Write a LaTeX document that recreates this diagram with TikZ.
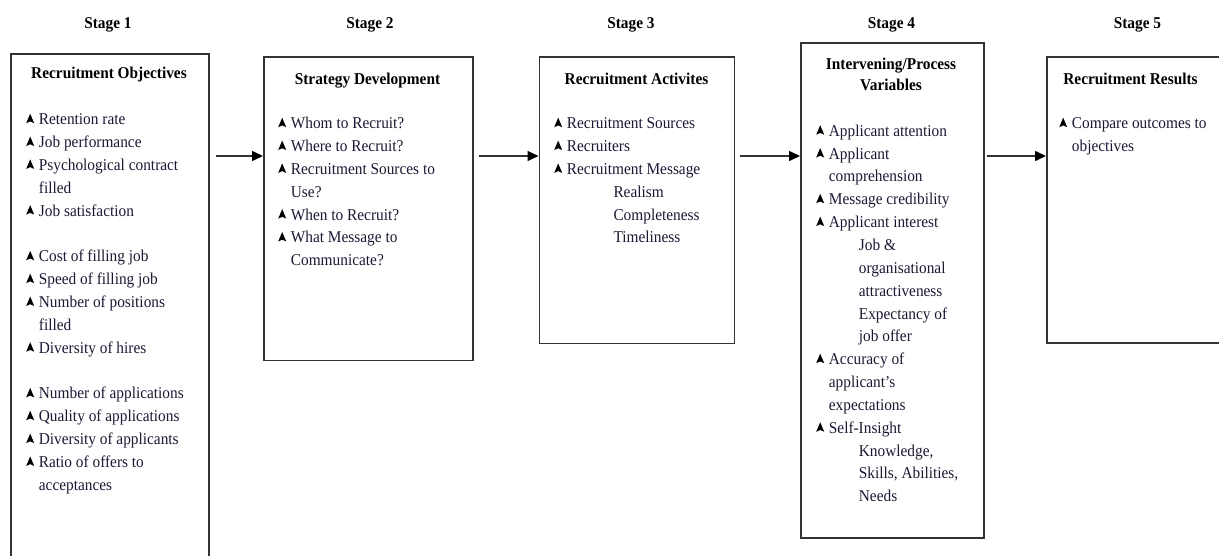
\documentclass[tikz,border=0pt]{standalone}
\usepackage{fontspec}
\setmainfont{Liberation Serif}[FakeStretch=0.93]
\usetikzlibrary{arrows.meta}
\definecolor{txt}{rgb}{0.1,0.1,0.2}
\definecolor{edge}{rgb}{0.2,0.2,0.2}
\newcommand\bl{\makebox[12.7pt][l]{\tikz[baseline=-1.5pt]\fill[black] (0pt,0pt)--(4pt,9.5pt)--(8pt,0pt)--(4pt,1.8pt)--cycle;}}
\newcommand\ind{\hspace*{12.7pt}}
\newcommand\fst{\rule{0pt}{16pt}}
\begin{document}
\begin{tikzpicture}[x=1pt,y=-1pt,
  box/.style={draw=edge,line width=1.5pt,inner sep=0pt,anchor=north west},
  body/.style={anchor=north west,align=left,inner sep=0pt,text=txt,font=\fontsize{16.5}{22.85}\selectfont},
  ttl/.style={anchor=base,inner sep=0pt,text=black,font=\bfseries\fontsize{16.5}{21.6}\selectfont},
  arr/.style={draw=edge,line width=1.5pt,-{Triangle[length=11pt,width=10pt,color=black]}}]
\useasboundingbox (0,0) rectangle (1219,555);
\clip (0,0) rectangle (1219,555);

% stage labels
\node[ttl] (s1) at (108,28) {Stage 1};
\node[ttl] (s2) at (370,28) {Stage 2};
\node[ttl] (s3) at (631,28) {Stage 3};
\node[ttl] (s4) at (891.5,28) {Stage 4};
\node[ttl] (s5) at (1137.5,28) {Stage 5};

% boxes
\node[box,minimum width=198pt,minimum height=560pt] (b1) at (10,53) {};
\node[box,minimum width=209pt,minimum height=303.5pt] (b2) at (263,56) {};
\node[box,minimum width=195pt,minimum height=286.5pt] (b3) at (538.5,56) {};
\node[box,minimum width=183pt,minimum height=495pt] (b4) at (800,42) {};
\node[box,minimum width=220pt,minimum height=286pt] (b5) at (1046,56) {};

% titles
\node[ttl] (t1) at (109,78.5) {Recruitment Objectives};
\node[ttl] (t2) at (367.5,84.5) {Strategy Development};
\node[ttl] (t3) at (636.5,84.5) {Recruitment Activites};
\node[ttl,anchor=north,align=center] (t4) at (891,53) {\fst Intervening/Process\\Variables};
\node[ttl] (t5) at (1130.5,84) {Recruitment Results};

% bodies
\node[body] (l1) at (26,108.5) {\fst\bl Retention rate\\
\bl Job performance\\
\bl Psychological contract\\
\ind filled\\
\bl Job satisfaction\\[22.85pt]
\bl Cost of filling job\\
\bl Speed of filling job\\
\bl Number of positions\\
\ind filled\\
\bl Diversity of hires\\[22.85pt]
\bl Number of applications\\
\bl Quality of applications\\
\bl Diversity of applicants\\
\bl Ratio of offers to\\
\ind acceptances};

\node[body] (l2) at (278,112.5) {\fst\bl Whom to Recruit?\\
\bl Where to Recruit?\\
\bl Recruitment Sources to\\
\ind Use?\\
\bl When to Recruit?\\
\bl What Message to\\
\ind Communicate?};

\node[body] (l3) at (554,112.5) {\fst\bl Recruitment Sources\\
\bl Recruiters\\
\bl Recruitment Message\\
\hspace*{59.3pt}Realism\\
\hspace*{59.3pt}Completeness\\
\hspace*{59.3pt}Timeliness};

\node[body] (l4) at (816,120) {\fst\bl Applicant attention\\
\bl Applicant\\
\ind comprehension\\
\bl Message credibility\\
\bl Applicant interest\\
\hspace*{42.7pt}Job \&\\
\hspace*{42.7pt}organisational\\
\hspace*{42.7pt}attractiveness\\
\hspace*{42.7pt}Expectancy of\\
\hspace*{42.7pt}job offer\\
\bl Accuracy of\\
\ind applicant’s\\
\ind expectations\\
\bl Self-Insight\\
\hspace*{42.7pt}Knowledge,\\
\hspace*{42.7pt}Skills, Abilities,\\
\hspace*{42.7pt}Needs};

\node[body] (l5) at (1059,112.5) {\fst\bl Compare outcomes to\\
\ind objectives};

% arrows
\draw[arr] ([xshift=6pt]b1.east |- 0,156) -- (b2.west |- 0,156);
\draw[arr] ([xshift=5pt]b2.east |- 0,156) -- (b3.west |- 0,156);
\draw[arr] ([xshift=5pt]b3.east |- 0,156) -- (b4.west |- 0,156);
\draw[arr] ([xshift=2pt]b4.east |- 0,156) -- (b5.west |- 0,156);
\end{tikzpicture}
\end{document}
